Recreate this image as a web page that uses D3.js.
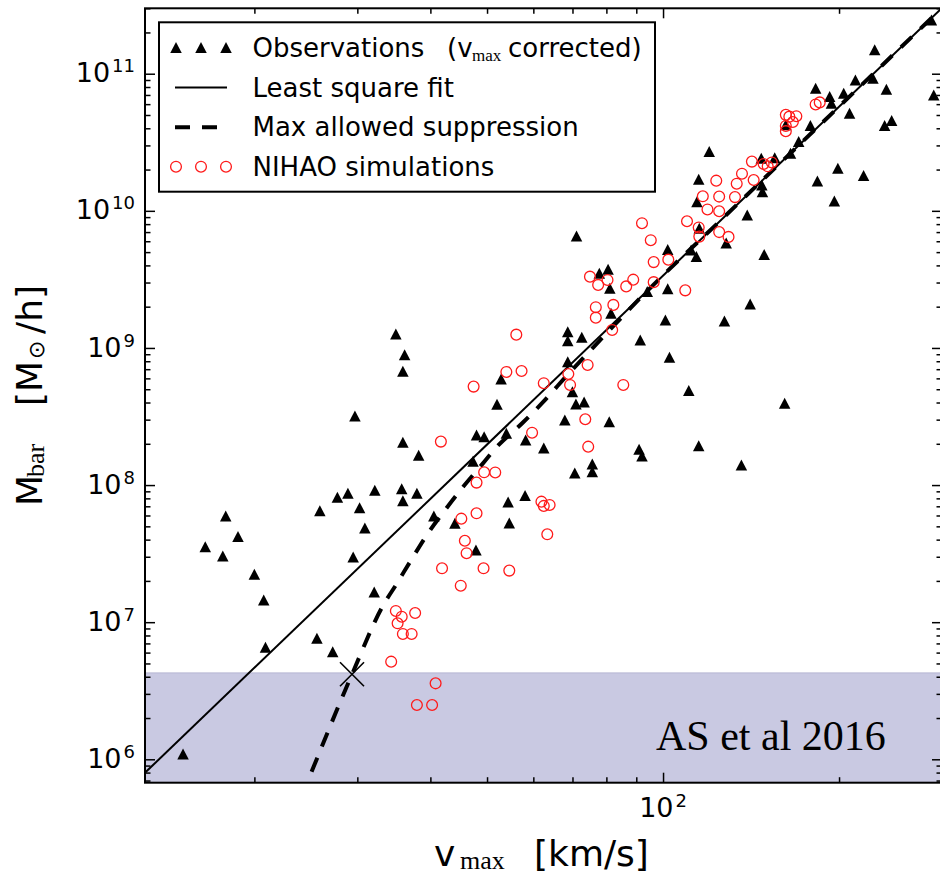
<!DOCTYPE html>
<html>
<head>
<meta charset="utf-8">
<script src="https://cdn.jsdelivr.net/npm/d3@7/dist/d3.min.js"></script>
<style>
  body { margin: 0; background: #fff; }
  text { font-family: "DejaVu Sans", sans-serif; fill: #000; }
  .serif { font-family: "Liberation Serif", "DejaVu Serif", serif; }
</style>
</head>
<body>
<script>
// baryonic Tully-Fisher relation
// every pair is [log10 v_max (km/s), log10 M_bar (Msun/h)]
let observations = [
  [1.179, 6.039], [1.217, 7.551], [1.252, 7.775], [1.247, 7.483], [1.273, 7.624],
  [1.301, 7.349], [1.317, 7.162], [1.320, 6.817], [1.408, 6.883], [1.435, 6.785],
  [1.413, 7.813], [1.443, 7.911], [1.461, 7.940], [1.481, 7.835], [1.490, 7.687],
  [1.470, 7.476], [1.473, 8.504], [1.507, 7.962], [1.506, 7.220], [1.543, 9.102],
  [1.558, 8.951], [1.555, 8.830], [1.555, 8.312], [1.582, 8.217], [1.553, 7.974],
  [1.555, 7.886], [1.579, 7.940], [1.608, 7.775], [1.644, 7.721], [1.680, 7.527],
  [1.675, 8.174], [1.681, 8.365], [1.694, 8.353], [1.716, 8.589], [1.723, 8.774],
  [1.732, 8.378], [1.765, 8.329], [1.735, 7.877], [1.737, 7.724], [1.764, 7.924],
  [1.796, 8.271], [1.832, 8.475], [1.851, 8.592], [1.865, 8.606], [1.908, 8.462],
  [1.959, 8.261], [1.964, 8.212], [1.879, 8.154], [1.879, 8.098], [1.849, 8.088],
  [1.852, 9.817], [1.891, 9.545], [1.906, 9.574], [1.909, 9.435], [1.911, 9.253],
  [1.837, 9.119], [1.837, 9.053], [1.861, 9.078], [1.837, 8.900], [1.845, 8.681],
  [2.061, 8.287], [2.134, 8.147], [2.044, 8.689], [2.011, 8.932], [1.961, 9.058],
  [2.004, 9.204], [2.105, 9.197], [2.149, 9.321], [2.208, 8.597], [2.008, 9.718],
  [2.048, 9.715], [2.057, 9.667], [2.008, 9.432], [1.973, 9.411], [2.058, 10.067],
  [2.061, 10.231], [2.062, 9.873], [2.079, 10.432], [2.108, 9.766], [2.144, 9.970],
  [2.173, 9.682], [2.169, 10.189], [2.170, 10.140], [2.168, 10.384], [2.191, 10.387],
  [2.218, 10.420], [2.210, 10.627], [2.232, 10.505], [2.252, 10.623], [2.264, 10.218],
  [2.293, 10.072], [2.299, 10.311], [2.343, 10.258], [2.319, 10.712], [2.379, 10.623],
  [2.391, 10.658], [2.288, 10.785], [2.285, 10.833], [2.459, 11.392], [2.362, 11.174],
  [2.329, 10.955], [2.359, 10.967], [2.382, 10.887], [2.261, 10.894], [2.309, 10.858],
  [2.463, 10.845]
];

let simulations = [
  [1.749, 9.097], [1.732, 8.825], [1.758, 8.832], [1.676, 8.718], [1.620, 8.317],
  [1.776, 8.382], [1.694, 8.093], [1.713, 8.092], [1.681, 8.018], [1.681, 7.794],
  [1.655, 7.755], [1.661, 7.594], [1.664, 7.503], [1.622, 7.393], [1.693, 7.393],
  [1.737, 7.376], [1.654, 7.266], [1.796, 8.743], [1.792, 7.879], [1.796, 7.848],
  [1.806, 7.855], [1.802, 7.641], [1.867, 8.480], [1.872, 8.280], [1.543, 7.082],
  [1.553, 7.040], [1.576, 7.067], [1.546, 6.992], [1.555, 6.914], [1.570, 6.914],
  [1.535, 6.712], [1.611, 6.554], [1.579, 6.396], [1.605, 6.396], [1.871, 8.876],
  [1.838, 8.810], [1.841, 8.730], [1.932, 8.730], [1.875, 9.520], [1.889, 9.460],
  [1.905, 9.496], [1.885, 9.297], [1.885, 9.221], [1.915, 9.314], [1.913, 9.131],
  [1.937, 9.449], [1.949, 9.498], [1.984, 9.626], [1.984, 9.480], [2.009, 9.644],
  [2.038, 9.420], [1.964, 9.910], [1.979, 9.786], [2.041, 9.924], [2.061, 9.879],
  [2.062, 9.812], [2.068, 10.106], [2.076, 10.010], [2.091, 10.220], [2.096, 10.104],
  [2.096, 9.997], [2.096, 9.845], [2.112, 9.810], [2.123, 10.100], [2.126, 10.198],
  [2.135, 10.271], [2.152, 10.359], [2.155, 10.225], [2.172, 10.342], [2.179, 10.325],
  [2.186, 10.353], [2.210, 10.700], [2.210, 10.619], [2.210, 10.581], [2.216, 10.687],
  [2.228, 10.690], [2.222, 10.648], [2.261, 10.776], [2.268, 10.791]
];

// least square fit (straight in log-log)
let fitLine = [[1.113, 5.898], [2.477, 11.479]];

// max allowed suppression, peels off the fit at low v_max
let suppression = [
  [1.399, 5.910], [1.468, 6.620], [1.520, 7.113], [1.545, 7.284], [1.570, 7.459],
  [1.596, 7.636], [1.625, 7.806], [1.656, 7.977], [1.685, 8.123], [1.716, 8.280],
  [1.759, 8.451], [1.793, 8.597], [1.840, 8.820], [1.882, 9.010], [1.960, 9.360],
  [2.100, 9.937], [2.300, 10.756], [2.477, 11.479]
];

// where the suppression curve crosses the detection limit
let crossing = [1.468, 6.620];
// shaded region below this log10 M_bar
let bandTop = 6.63;

let xDomain = [13, 300];
let yDomain = [6.75e5, 3.0e11];
let xMajor = [100];
let xMajorLabels = ["2"];
let yMajor = [1e6, 1e7, 1e8, 1e9, 1e10, 1e11];
let yMajorLabels = ["6", "7", "8", "9", "10", "11"];
let mantissas = [2, 3, 4, 5, 6, 7, 8, 9];

// margins put the axes box where it belongs on the 940x877 page
let margin = {top: 8.3, right: -2, bottom: 94.3, left: 145};
let width = 940 - margin.left - margin.right;
let height = 877 - margin.top - margin.bottom;

let x = d3.scaleLog().domain(xDomain).range([0, width]);
let y = d3.scaleLog().domain(yDomain).range([height, 0]);

function px(d) { return x(Math.pow(10, d[0])); }
function py(d) { return y(Math.pow(10, d[1])); }

// minor ticks between the decades
function minorTicks(domain, k0, k1) {
  let out = [];
  d3.range(k0, k1 + 1).forEach(function(k) {
    mantissas.forEach(function(m) {
      let v = m * Math.pow(10, k);
      if (v >= domain[0] && v <= domain[1]) out.push(v);
    });
  });
  return out;
}
let xMinor = minorTicks(xDomain, 1, 2);
let yMinor = minorTicks(yDomain, 5, 11);

let svg = d3.select("body").append("svg")
    .attr("width", 940)
    .attr("height", 877);

let plot = svg.append("g")
    .attr("transform", "translate(" + margin.left + "," + margin.top + ")");

plot.append("clipPath").attr("id", "clip")
  .append("rect").attr("width", width).attr("height", height);

// shaded detection-limit band
plot.append("rect")
    .attr("x", 0)
    .attr("y", y(Math.pow(10, bandTop)))
    .attr("width", width)
    .attr("height", height - y(Math.pow(10, bandTop)))
    .attr("fill", "#c9c9e2");
plot.append("line")
    .attr("x1", 0).attr("x2", width)
    .attr("y1", y(Math.pow(10, bandTop))).attr("y2", y(Math.pow(10, bandTop)))
    .attr("stroke", "#b6b6d4").attr("stroke-width", 1);

plot.append("text")
    .attr("class", "serif")
    .attr("x", 656 - margin.left)
    .attr("y", 750 - margin.top)
    .style("font-size", "42px")
    .text("AS et al 2016");

let lines = plot.append("g").attr("clip-path", "url(#clip)");

let straight = d3.line().x(px).y(py);
let curved = d3.line().x(px).y(py).curve(d3.curveMonotoneX);

lines.append("path")
    .datum(fitLine)
    .attr("d", straight)
    .attr("fill", "none")
    .attr("stroke", "#000")
    .attr("stroke-width", 2);

lines.append("path")
    .datum(suppression)
    .attr("d", curved)
    .attr("fill", "none")
    .attr("stroke", "#000")
    .attr("stroke-width", 4)
    .attr("stroke-dasharray", "15,12");

// triangle centred on its bounding box
let triangle = "M0,-5.5L5.75,5.5L-5.75,5.5Z";

let marks = plot.append("g").attr("clip-path", "url(#clip)");

marks.selectAll(".obs")
    .data(observations)
  .enter().append("path")
    .attr("class", "obs")
    .attr("d", triangle)
    .attr("transform", function(d) { return "translate(" + px(d) + "," + py(d) + ")"; })
    .attr("fill", "#000");

marks.selectAll(".sim")
    .data(simulations)
  .enter().append("circle")
    .attr("class", "sim")
    .attr("cx", px)
    .attr("cy", py)
    .attr("r", 5.4)
    .attr("fill", "none")
    .attr("stroke", "#ff1a1a")
    .attr("stroke-width", 1.3);

// cross marking the crossing point
let cx = px(crossing), cy = py(crossing);
plot.append("path")
    .attr("d", "M" + (cx - 12) + "," + (cy - 12) + "L" + (cx + 12) + "," + (cy + 12) +
               "M" + (cx - 12) + "," + (cy + 12) + "L" + (cx + 12) + "," + (cy - 12))
    .attr("stroke", "#000")
    .attr("stroke-width", 1.6);

// ticks on all four sides, pointing inwards
function ticks(axis, values, size) {
  return axis.tickValues(values).tickSizeInner(-size).tickSizeOuter(0).tickFormat("");
}
let sides = [
  [function() { return d3.axisLeft(y); }, null, yMajor, yMinor],
  [function() { return d3.axisRight(y); }, "translate(" + width + ",0)", yMajor, yMinor],
  [function() { return d3.axisBottom(x); }, "translate(0," + height + ")", xMajor, xMinor],
  [function() { return d3.axisTop(x); }, null, xMajor, xMinor]
];
sides.forEach(function(s) {
  [[s[2], 10], [s[3], 5.5]].forEach(function(t) {
    let g = plot.append("g").attr("transform", s[1]).call(ticks(s[0](), t[0], t[1]));
    g.select(".domain").remove();
    g.selectAll("line").attr("stroke-width", 1.5);
  });
});

// axes frame
plot.append("rect")
    .attr("width", width)
    .attr("height", height)
    .attr("fill", "none")
    .attr("stroke", "#000")
    .attr("stroke-width", 2);

// tick labels as 10^n
yMajor.forEach(function(v, i) {
  let t = plot.append("text")
      .attr("x", 135 - margin.left)
      .attr("y", y(v) + 8.6)
      .attr("text-anchor", "end")
      .style("font-size", "27px");
  t.append("tspan").text("10");
  t.append("tspan").attr("dx", 2).attr("dy", -10).style("font-size", "18px").text(yMajorLabels[i]);
});
xMajor.forEach(function(v, i) {
  let t = plot.append("text")
      .attr("x", x(v))
      .attr("y", 817 - margin.top)
      .attr("text-anchor", "middle")
      .style("font-size", "27px");
  t.append("tspan").text("10");
  t.append("tspan").attr("dx", 2).attr("dy", -10).style("font-size", "18px").text(xMajorLabels[i]);
});

// x axis title
let xt = svg.append("text").attr("y", 866).style("font-size", "36px");
xt.append("tspan").attr("x", 434).text("v");
xt.append("tspan").attr("x", 460).attr("dy", 3).attr("class", "serif").style("font-size", "26px").text("max");
xt.append("tspan").attr("x", 534).attr("dy", -3).text("[km/s]");

// y axis title, reads bottom to top
let yt = svg.append("text")
    .attr("transform", "translate(42,0) rotate(-90)")
    .style("font-size", "36px");
yt.append("tspan").attr("x", -506).attr("y", 0).text("M");
yt.append("tspan").attr("x", -477).attr("y", 2).attr("class", "serif").style("font-size", "26px").text("bar");
yt.append("tspan").attr("x", -406).attr("y", 0).text("[M");
yt.append("tspan").attr("x", -359).attr("y", 2).style("font-size", "22px").text("\u2299");
yt.append("tspan").attr("x", -334).attr("y", 0).text("/h]");

// legend
let legend = svg.append("g");
legend.append("rect")
    .attr("x", 159).attr("y", 22.3)
    .attr("width", 496).attr("height", 169.4)
    .attr("fill", "#fff")
    .attr("stroke", "#000")
    .attr("stroke-width", 2);

let rowY = [47.5, 87.5, 127.3, 166.7];
let sampleX = [176, 201, 226];

legend.selectAll(".ltri")
    .data(sampleX)
  .enter().append("path")
    .attr("d", triangle)
    .attr("transform", function(d) { return "translate(" + d + "," + rowY[0] + ")"; })
    .attr("fill", "#000");

legend.append("line")
    .attr("x1", 175).attr("x2", 227)
    .attr("y1", rowY[1]).attr("y2", rowY[1])
    .attr("stroke", "#000").attr("stroke-width", 2);

legend.append("line")
    .attr("x1", 175).attr("x2", 227)
    .attr("y1", rowY[2]).attr("y2", rowY[2])
    .attr("stroke", "#000").attr("stroke-width", 4)
    .attr("stroke-dasharray", "15,12");

legend.selectAll(".lcirc")
    .data(sampleX)
  .enter().append("circle")
    .attr("cx", function(d) { return d; })
    .attr("cy", rowY[3])
    .attr("r", 5.4)
    .attr("fill", "none")
    .attr("stroke", "#ff1a1a")
    .attr("stroke-width", 1.3);

let obsLabel = legend.append("text").attr("y", rowY[0] + 9).style("font-size", "26px");
obsLabel.append("tspan").attr("x", 252.5).text("Observations");
obsLabel.append("tspan").attr("x", 447).text("(v");
obsLabel.append("tspan").attr("x", 472).attr("dy", 4).attr("class", "serif").style("font-size", "17px").text("max");
obsLabel.append("tspan").attr("x", 508).attr("dy", -4).text("corrected)");

legend.append("text").attr("x", 252.5).attr("y", rowY[1] + 9).style("font-size", "26px").text("Least square fit");
legend.append("text").attr("x", 252.5).attr("y", rowY[2] + 9).style("font-size", "26px").text("Max allowed suppression");
legend.append("text").attr("x", 252.5).attr("y", rowY[3] + 9).style("font-size", "26px").text("NIHAO simulations");
</script>
</body>
</html>
